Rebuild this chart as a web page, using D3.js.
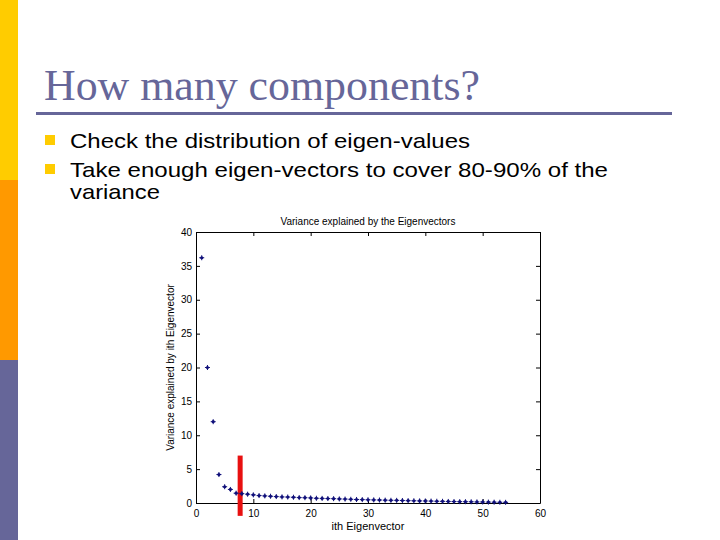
<!DOCTYPE html>
<html>
<head>
<meta charset="utf-8">
<script src="https://cdn.jsdelivr.net/npm/d3@7"></script>
<style>
	body { margin: 0; background: #fff; }
	svg { display: block; }
</style>
</head>
<body>
<div id="slide"></div>
<script>
var width = 720,
	height = 540;

// eigenvalue index and explained variance
var eigIndex = d3.range(1, 55);
var variance = [36.2, 20.0, 12.0, 4.2, 2.4, 2.0, 1.45, 1.38, 1.3, 1.2,
	1.1, 1.05, 1.0, 0.95, 0.9, 0.88, 0.85, 0.8, 0.78, 0.75,
	0.7, 0.68, 0.66, 0.64, 0.6, 0.58, 0.55, 0.52, 0.5, 0.48,
	0.46, 0.44, 0.42, 0.4, 0.39, 0.37, 0.35, 0.33, 0.31, 0.3,
	0.28, 0.26, 0.25, 0.23, 0.22, 0.2, 0.19, 0.18, 0.16, 0.15,
	0.13, 0.12, 0.11, 0.1];
var cutoff = { x: 7.7, from: -1.9, to: 7 };

var xTicks = [0, 10, 20, 30, 40, 50, 60];
var yTicks = [0, 5, 10, 15, 20, 25, 30, 35, 40];

var bullets = [
	[['Check the distribution of eigen-values', 400]],
	[['Take enough eigen-vectors to cover 80-90% of the', 538], ['variance', 90]]
];

var svg = d3.select('#slide').append('svg')
	.attr('width', width)
	.attr('height', height);

// left colour strip
var strip = [['#FFCC00', 0, 180], ['#FF9900', 180, 360], ['#666699', 360, 540]];
svg.selectAll('rect.strip')
	.data(strip)
	.enter()
	.append('rect')
	.attr('x', 0)
	.attr('y', d => d[1])
	.attr('width', 18)
	.attr('height', d => d[2] - d[1])
	.style('fill', d => d[0]);

// slide title
svg.append('text')
	.text('How many components?')
	.attr('x', 44)
	.attr('y', 100)
	.attr('textLength', 436)
	.attr('lengthAdjust', 'spacingAndGlyphs')
	.style('font-family', '"Liberation Serif", "Times New Roman", serif')
	.style('font-size', '45px')
	.style('fill', '#666699');

svg.append('rect')
	.attr('x', 36)
	.attr('y', 112)
	.attr('width', 636)
	.attr('height', 3)
	.style('fill', '#666699');

// bullets
var lineY = 148;
bullets.forEach(function(lines) {
	svg.append('rect')
		.attr('x', 45)
		.attr('y', lineY - 13)
		.attr('width', 10)
		.attr('height', 10)
		.style('fill', '#FFCC00');
	lines.forEach(function(t, i) {
		svg.append('text')
			.text(t[0])
			.attr('x', 70)
			.attr('y', lineY + i * 22)
			.attr('textLength', t[1])
			.attr('lengthAdjust', 'spacingAndGlyphs')
			.style('font-family', '"Liberation Sans", Arial, sans-serif')
			.style('font-size', '21px')
			.style('fill', '#000');
	});
	lineY += 29;
});

// chart
var plot = { left: 196, right: 540, top: 232, bottom: 503 };

var x = d3.scaleLinear().domain([0, 60]).range([plot.left, plot.right]);
var y = d3.scaleLinear().domain([0, 40]).range([plot.bottom, plot.top]);

var chart = svg.append('g').classed('chart', true);
var fontSmall = '"Liberation Sans", Arial, sans-serif';

chart.append('g')
	.attr('transform', 'translate(0,' + plot.bottom + ')')
	.call(d3.axisBottom(x).tickValues(xTicks).tickSizeInner(-4).tickSizeOuter(0).tickPadding(7));
chart.append('g')
	.attr('transform', 'translate(0,' + plot.top + ')')
	.call(d3.axisTop(x).tickValues(xTicks).tickSizeInner(-4).tickSizeOuter(0).tickFormat(''));
chart.append('g')
	.attr('transform', 'translate(' + plot.left + ',0)')
	.call(d3.axisLeft(y).tickValues(yTicks).tickSizeInner(-4).tickSizeOuter(0).tickPadding(4));
chart.append('g')
	.attr('transform', 'translate(' + plot.right + ',0)')
	.call(d3.axisRight(y).tickValues(yTicks).tickSizeInner(-4).tickSizeOuter(0).tickFormat(''));

chart.selectAll('.domain, .tick line')
	.style('stroke', '#000')
	.style('stroke-width', 1);
chart.selectAll('.tick text')
	.style('font-family', fontSmall)
	.style('font-size', '10px')
	.style('fill', '#000');

// the red cutoff bar
chart.append('line')
	.attr('x1', x(cutoff.x))
	.attr('x2', x(cutoff.x))
	.attr('y1', y(cutoff.from))
	.attr('y2', y(cutoff.to))
	.style('stroke', '#E81010')
	.style('stroke-width', 5);

// points
var pts = chart.selectAll('g.pt')
	.data(eigIndex)
	.enter()
	.append('g')
	.classed('pt', true)
	.attr('transform', (d, i) => 'translate(' + x(d) + ',' + y(variance[i]) + ')');
pts.append('circle')
	.attr('r', 1.6)
	.style('fill', '#10107a');
pts.append('path')
	.attr('d', 'M-2.5,0H2.5M0,-2.5V2.5')
	.style('stroke', '#10107a')
	.style('stroke-width', 1);

// labels
chart.append('text')
	.text('Variance explained by the Eigenvectors')
	.attr('x', (plot.left + plot.right) / 2)
	.attr('y', 225)
	.attr('text-anchor', 'middle')
	.style('font-family', fontSmall)
	.style('font-size', '10px');

chart.append('text')
	.text('ith Eigenvector')
	.attr('x', (plot.left + plot.right) / 2)
	.attr('y', 530)
	.attr('text-anchor', 'middle')
	.style('font-family', fontSmall)
	.style('font-size', '11px');

chart.append('text')
	.text('Variance explained by ith Eigenvector')
	.attr('transform', 'translate(174,' + (plot.top + plot.bottom) / 2 + ') rotate(-90)')
	.attr('text-anchor', 'middle')
	.style('font-family', fontSmall)
	.style('font-size', '10px');
</script>
</body>
</html>
